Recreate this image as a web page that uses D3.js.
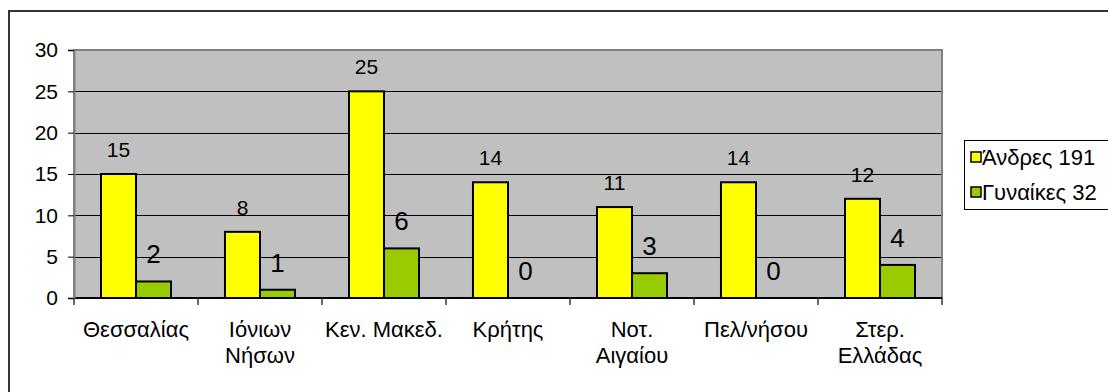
<!DOCTYPE html>
<html><head><meta charset="utf-8">
<script src="https://cdn.jsdelivr.net/npm/d3@7"></script>
<style>
html,body{margin:0;padding:0;background:#fff;}
svg{display:block;font-family:"Liberation Sans",Arial,sans-serif;}
</style></head>
<body>
<svg id="chart" width="1108" height="392"></svg>
<script>
const categories = [["Θεσσαλίας"],["Ιόνιων","Νήσων"],["Κεν. Μακεδ."],["Κρήτης"],["Νοτ.","Αιγαίου"],["Πελ/νήσου"],["Στερ.","Ελλάδας"]];
const seriesNames = ["Άνδρες 191","Γυναίκες 32"];
const men = [15, 8, 25, 14, 11, 14, 12];
const women = [2, 1, 6, 0, 3, 0, 4];
const yTicks = [0, 5, 10, 15, 20, 25, 30];
const colors = ["#ffff00", "#99cc00"];

const svg = d3.select("#chart");
const plot = {x0: 74, x1: 942, y0: 50, y1: 298};

// outer frame
svg.append("rect").attr("x", 9).attr("y", 11).attr("width", 1120).attr("height", 400)
  .attr("fill", "#fff").attr("stroke", "#333").attr("stroke-width", 2);

const idx = d3.range(categories.length);
const x = d3.scaleBand().domain(idx).range([plot.x0, plot.x1]).padding(0);
const xs = d3.scaleBand().domain([0, 1]).range([0, x.bandwidth()]).paddingInner(0).paddingOuter(0.771);
const y = d3.scaleLinear().domain([0, 30]).range([plot.y1, plot.y0]);

// plot background
svg.append("rect").attr("x", plot.x0).attr("y", plot.y0)
  .attr("width", plot.x1 - plot.x0).attr("height", plot.y1 - plot.y0)
  .attr("fill", "#c0c0c0");

// gridlines
svg.append("g").selectAll("line").data(yTicks.filter(t => t > 0 && t < 30)).join("line")
  .attr("x1", plot.x0).attr("x2", plot.x1)
  .attr("y1", d => Math.round(y(d)) + 0.5).attr("y2", d => Math.round(y(d)) + 0.5)
  .attr("stroke", "#000").attr("stroke-width", 1);

// plot border
svg.append("rect").attr("x", plot.x0).attr("y", plot.y0)
  .attr("width", plot.x1 - plot.x0).attr("height", plot.y1 - plot.y0)
  .attr("fill", "none").attr("stroke", "#808080").attr("stroke-width", 2);

// bars
const data = idx.map(i => [men[i], women[i]]);
const groups = svg.append("g").selectAll("g").data(data).join("g")
  .attr("transform", (d, i) => `translate(${x(i)},0)`);
groups.selectAll("rect").data(d => d.map((v, s) => ({v, s}))).join("rect")
  .attr("x", d => xs(d.s)).attr("width", xs.bandwidth())
  .attr("y", d => y(d.v)).attr("height", d => y(0) - y(d.v))
  .attr("fill", d => colors[d.s]).attr("stroke", "#000").attr("stroke-width", 2)
  .attr("display", d => d.v === 0 ? "none" : null);
groups.selectAll("text").data(d => d.map((v, s) => ({v, s}))).join("text")
  .attr("x", d => xs(d.s) + xs.bandwidth() / 2)
  .attr("y", d => y(d.v) - (d.s === 0 ? 17 : 18))
  .attr("text-anchor", "middle")
  .attr("font-size", d => d.s === 0 ? 21 : 26)
  .attr("fill", "#000")
  .text(d => d.v);

// bottom axis line
svg.append("line").attr("x1", plot.x0).attr("x2", plot.x1)
  .attr("y1", plot.y1).attr("y2", plot.y1).attr("stroke", "#000").attr("stroke-width", 2);

// y axis
const yAxis = d3.axisLeft(y).tickValues(yTicks).tickSize(6).tickPadding(10);
const gy = svg.append("g").attr("transform", `translate(${plot.x0},0)`).call(yAxis);
gy.select(".domain").attr("stroke", "#808080").attr("stroke-width", 2);
gy.selectAll(".tick line").attr("stroke", "#000");
gy.selectAll(".tick text").attr("font-size", 21).attr("fill", "#000")
  .attr("font-family", '"Liberation Sans",Arial,sans-serif');

// x axis ticks at category boundaries
const bounds = idx.map(i => x(i)).concat([plot.x1]);
svg.append("g").selectAll("line").data(bounds).join("line")
  .attr("x1", d => d).attr("x2", d => d).attr("y1", plot.y1).attr("y2", plot.y1 + 7)
  .attr("stroke", "#333").attr("stroke-width", 1.5);

// category labels
const cl = svg.append("g").selectAll("text").data(categories).join("text")
  .attr("x", (d, i) => x(i) + x.bandwidth() / 2)
  .attr("y", 337).attr("text-anchor", "middle").attr("font-size", 22).attr("fill", "#000");
cl.selectAll("tspan").data(d => d).join("tspan")
  .attr("x", function() { return this.parentNode.getAttribute("x"); })
  .attr("dy", (d, j) => j === 0 ? 0 : 26).text(d => d);

// legend
const lg = svg.append("g");
lg.append("rect").attr("x", 964.5).attr("y", 140.5).attr("width", 160).attr("height", 69)
  .attr("fill", "#fff").attr("stroke", "#000").attr("stroke-width", 1);
const li = lg.selectAll("g").data(seriesNames).join("g")
  .attr("transform", (d, i) => `translate(971,${152 + i * 35})`);
li.append("rect").attr("width", 10).attr("height", 10)
  .attr("fill", (d, i) => colors[i]).attr("stroke", "#000").attr("stroke-width", 1.5);
li.append("text").attr("x", 11).attr("y", 13).attr("font-size", 22).attr("fill", "#000").text(d => d);
</script>
</body></html>
